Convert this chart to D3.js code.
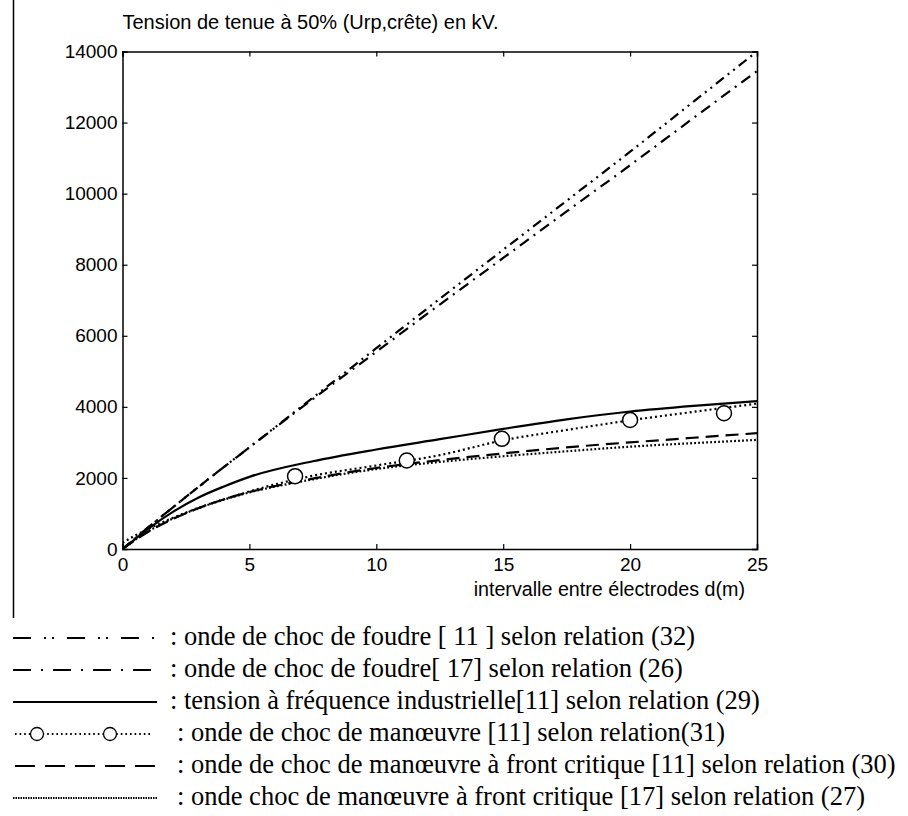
<!DOCTYPE html>
<html><head><meta charset="utf-8">
<script src="https://cdn.jsdelivr.net/npm/d3@7"></script>
<style>
html,body{margin:0;padding:0;background:#fff;}
svg{display:block;}
</style></head>
<body>
<svg id="chart" width="908" height="816"></svg>
<script>
// ---- data ----
const dGrid = [0, 0.5, 1, 2, 3, 4, 5, 7.5, 10, 12.5, 15, 17.5, 20, 22.5, 25];
const foudre11 = [0, 300, 600, 1180, 1750, 2310, 2860, 4260, 5650, 7040, 8420, 9800, 11180, 12590, 14000];
const foudre17 = [0, 300, 600, 1180, 1750, 2310, 2860, 4220, 5550, 6880, 8190, 9500, 10800, 12130, 13450];
const freqInd11 = [0, 280, 560, 1050, 1450, 1760, 2030, 2470, 2800, 3090, 3380, 3650, 3870, 4030, 4160];
const manoeuvre11 = [170, 380, 560, 880, 1160, 1400, 1620, 2060, 2350, 2640, 3060, 3350, 3620, 3860, 4090];
const manoeuvre11MarkD = [6.8, 11.2, 14.95, 20, 23.7];
const manoeuvre11MarkU = [2050, 2490, 3100, 3630, 3820];
const frontCrit11 = [0, 250, 480, 850, 1150, 1400, 1600, 1980, 2280, 2500, 2690, 2860, 3000, 3130, 3260];
const frontCrit17 = [0, 260, 490, 860, 1150, 1390, 1590, 1960, 2250, 2450, 2610, 2750, 2880, 2980, 3070];
const xTicks = [0, 5, 10, 15, 20, 25];
const yTicks = [0, 2000, 4000, 6000, 8000, 10000, 12000, 14000];
const titleY = "Tension de tenue à 50% (Urp,crête) en kV.";
const titleX = "intervalle entre électrodes d(m)";
const legendLabels = [
  ": onde de choc de foudre [ 11 ] selon relation (32)",
  ": onde de choc de foudre[ 17] selon relation (26)",
  ": tension à fréquence industrielle[11] selon relation (29)",
  ": onde de choc de manœuvre [11] selon relation(31)",
  ": onde de choc de manœuvre à front critique [11] selon relation (30)",
  ": onde choc de manœuvre à front critique [17] selon relation (27)"
];

// ---- layout ----
const svg = d3.select("#chart");
const L = 122.5, R = 757, T = 51.5, B = 549;
const x = d3.scaleLinear().domain([0, 25]).range([L, R]);
const y = d3.scaleLinear().domain([0, 14000]).range([B, T]);
const sans = "'Liberation Sans', Arial, Helvetica, sans-serif";
const serif = "'Liberation Serif', 'Times New Roman', serif";

// left vertical rule
svg.append("line").attr("x1", 13.5).attr("x2", 13.5).attr("y1", 0).attr("y2", 618)
  .attr("stroke", "#000").attr("stroke-width", 1.5);

// clip
svg.append("defs").append("clipPath").attr("id", "clip")
  .append("rect").attr("x", L).attr("y", T - 2).attr("width", R - L + 2).attr("height", B - T + 2);

// axes
const fs = 19;
const axB = svg.append("g").attr("transform", `translate(0,${B})`)
  .call(d3.axisBottom(x).tickValues(xTicks).tickSize(-5).tickPadding(9).tickFormat(d3.format("d")));
const axT = svg.append("g").attr("transform", `translate(0,${T})`)
  .call(d3.axisTop(x).tickValues(xTicks).tickSize(-5).tickFormat(""));
const axL = svg.append("g").attr("transform", `translate(${L},0)`)
  .call(d3.axisLeft(y).tickValues(yTicks).tickSize(-5).tickPadding(5).tickFormat(d3.format("d")));
const axR = svg.append("g").attr("transform", `translate(${R},0)`)
  .call(d3.axisRight(y).tickValues(yTicks).tickSize(-5).tickFormat(""));
[axB, axT, axL, axR].forEach(g => {
  g.selectAll("path.domain").attr("stroke", "#000").attr("stroke-width", 1.5);
  g.selectAll(".tick line").attr("stroke", "#000").attr("stroke-width", 1.2);
  g.selectAll("text").attr("font-family", sans).attr("font-size", fs).attr("fill", "#000");
});
axL.selectAll(".tick text").attr("x", -5);

// axis titles
svg.append("text").attr("x", L).attr("y", 29).attr("font-family", sans).attr("font-size", 20)
  .attr("fill", "#000").text(titleY);
svg.append("text").attr("x", 745).attr("y", 596).attr("text-anchor", "end")
  .attr("font-family", sans).attr("font-size", 19.7).attr("fill", "#000").text(titleX);

// lines
const styles = [
  {data: foudre11, dash: "10,5,2,5,2,5"},
  {data: foudre17, dash: "11,6,2,6"},
  {data: freqInd11, dash: null},
  {data: manoeuvre11, dash: "2,3"},
  {data: frontCrit11, dash: "13,7"},
  {data: frontCrit17, dash: "1.8,2.2"}
];
const gLines = svg.append("g").attr("clip-path", "url(#clip)");
const lineGen = d3.line().x(d => x(d[0])).y(d => y(d[1])).curve(d3.curveMonotoneX);
styles.forEach(s => {
  const pts = dGrid.map((d, i) => [d, s.data[i]]);
  gLines.append("path").datum(pts).attr("d", lineGen)
    .attr("fill", "none").attr("stroke", "#000").attr("stroke-width", 2.2)
    .attr("stroke-dasharray", s.dash);
});
gLines.selectAll("circle.mk").data(manoeuvre11MarkD.map((d, i) => [d, manoeuvre11MarkU[i]]))
  .enter().append("circle").attr("class", "mk")
  .attr("cx", d => x(d[0])).attr("cy", d => y(d[1])).attr("r", 7.5)
  .attr("fill", "#fff").attr("stroke", "#000").attr("stroke-width", 1.5);

// legend
const legY = [638, 670, 702, 734, 766, 798];
const legTextX = [170, 170, 170, 177, 177, 177];
const legSamples = [
  {x1: 13, x2: 157, dash: "18,13,2,6,2,13"},
  {x1: 13, x2: 157, dash: "18,10,2,10"},
  {x1: 13, x2: 157, dash: null},
  {x1: 15, x2: 150, dash: "1.6,3"},
  {x1: 15, x2: 155, dash: "20,10"},
  {x1: 13, x2: 157, dash: "1.5,1"}
];
const gLeg = svg.append("g");
legSamples.forEach((s, i) => {
  gLeg.append("line").attr("x1", s.x1).attr("x2", s.x2).attr("y1", legY[i]).attr("y2", legY[i])
    .attr("stroke", "#000").attr("stroke-width", 2.2).attr("stroke-dasharray", s.dash);
});
[37, 110].forEach(cx => {
  gLeg.append("circle").attr("cx", cx).attr("cy", legY[3]).attr("r", 6.5)
    .attr("fill", "#fff").attr("stroke", "#000").attr("stroke-width", 1.3);
});
legendLabels.forEach((t, i) => {
  gLeg.append("text").attr("x", legTextX[i]).attr("y", legY[i]).attr("dy", "0.25em")
    .attr("font-family", serif).attr("font-size", 26.5).attr("fill", "#000").text(t);
});
</script>
</body></html>
